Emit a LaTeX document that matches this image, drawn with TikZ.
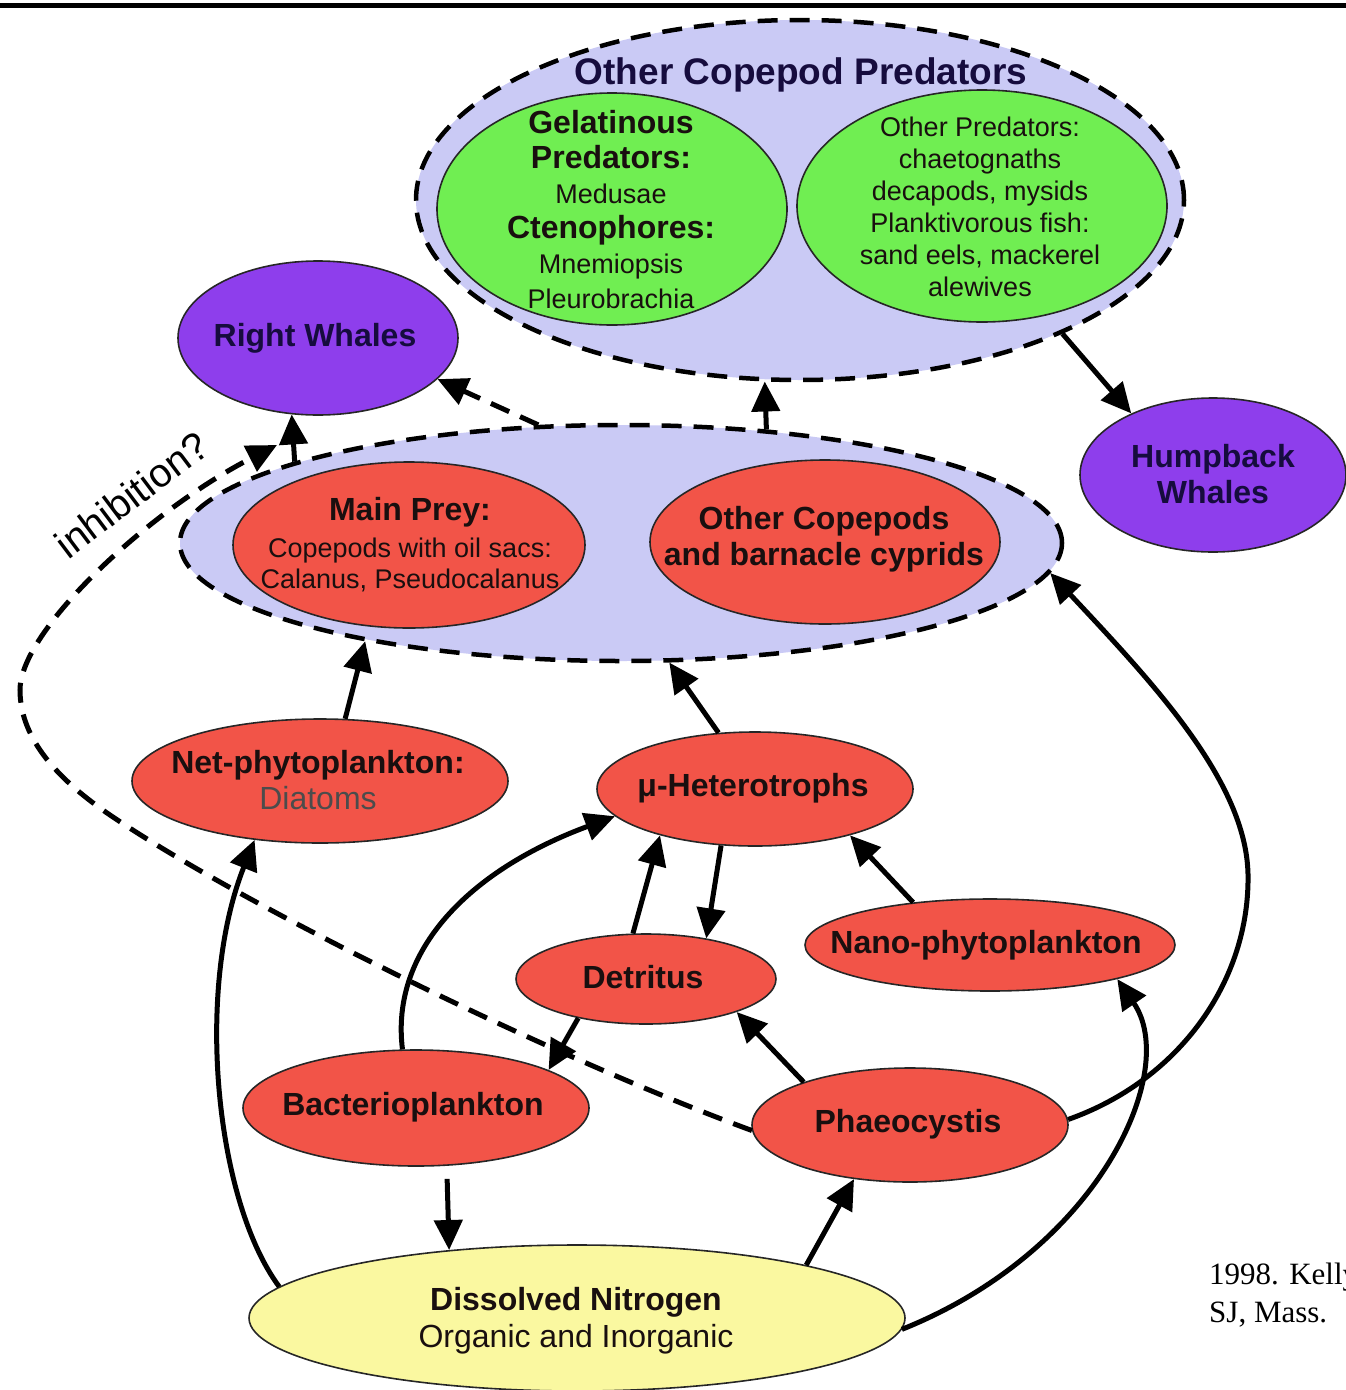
\documentclass[tikz,border=0pt]{standalone}
\usepackage{fontspec}
\setmainfont{Liberation Sans}
\newfontfamily\citefont{Liberation Serif}
\usetikzlibrary{shapes.geometric,arrows.meta}
\definecolor{lav}{RGB}{202,202,245}
\definecolor{grn}{RGB}{112,238,82}
\definecolor{redn}{RGB}{242,84,72}
\definecolor{purp}{RGB}{142,62,236}
\definecolor{yel}{RGB}{250,248,160}
\definecolor{navy}{RGB}{22,12,62}
\definecolor{txt}{RGB}{25,15,15}
\newcommand{\fsz}[2]{\fontsize{#1pt}{#2pt}\selectfont}
\begin{document}
\begin{tikzpicture}[x=1pt,y=-1pt,
  ell/.style={ellipse, draw=black!85, line width=1.6pt, inner sep=0pt},
  grpell/.style={ellipse, draw=black, fill=lav, line width=4.5pt, dash pattern=on 20pt off 12pt, inner sep=0pt},
  lbl/.style={align=center, inner sep=0pt, text=txt},
  arr/.style={line width=5pt, -{Triangle[length=30pt,width=28pt]}},
  darr/.style={arr, dash pattern=on 20pt off 12pt},
]
\path[use as bounding box] (0,0) rectangle (1346,1390);
\draw[line width=5pt] (0,5) -- (1346,5);

% Other copepod predators group
\node[grpell, minimum width=768pt, minimum height=360pt] (ocp) at (800,200) {};
\node[lbl, text=navy, font=\fsz{37}{40}\bfseries] (ocpT) at (801,75) {Other Copepod Predators};
\node[ell, fill=grn, minimum width=350pt, minimum height=232pt] (gel) at (612,209) {};
\node[lbl, font=\fsz{27}{35}] (gelT) at (611,210) {{\fsz{32}{35}\bfseries Gelatinous}\\{\fsz{32}{35}\bfseries Predators:}\\Medusae\\{\fsz{32}{35}\bfseries Ctenophores:}\\Mnemiopsis\\Pleurobrachia};
\node[ell, fill=grn, minimum width=370pt, minimum height=232pt] (oth) at (982,206) {};
\node[lbl, font=\fsz{27}{32}] (othT) at (980,207) {Other Predators:\\chaetognaths\\decapods, mysids\\Planktivorous fish:\\sand eels, mackerel\\alewives};

% Whales
\node[ell, fill=purp, minimum width=280pt, minimum height=154pt] (rw) at (318,338) {};
\node[lbl, text=navy, font=\fsz{32}{36}\bfseries] (rwT) at (315,338) {Right Whales};
\node[ell, fill=purp, minimum width=266pt, minimum height=154pt] (hw) at (1213,475) {};
\node[lbl, text=navy, font=\fsz{32}{36}\bfseries] (hwT) at (1213,474) {Humpback\\Whales};

% Copepod group
\node[grpell, minimum width=882pt, minimum height=236pt] (grp) at (621,543) {};
\node[ell, fill=redn, minimum width=352pt, minimum height=166pt] (mp) at (409,545) {};
\node[lbl, font=\fsz{27}{31}] (mpT) at (410,545) {{\fsz{32}{31}\bfseries Main Prey:}\\[6pt]Copepods with oil sacs:\\Calanus, Pseudocalanus};
\node[ell, fill=redn, minimum width=350pt, minimum height=164pt] (oc) at (825,542) {};
\node[lbl, font=\fsz{32}{36}\bfseries] (ocT) at (824,539) {Other Copepods\\and barnacle cyprids};

% Lower web
\node[ell, fill=redn, minimum width=376pt, minimum height=124pt] (np) at (320,781) {};
\node[lbl, font=\fsz{32}{36}] (npT) at (318,780) {{\bfseries Net-phytoplankton:}\\{\color{black!70}Diatoms}};
\node[ell, fill=redn, minimum width=316pt, minimum height=114pt] (mh) at (755,789) {};
\node[lbl, font=\fsz{32}{36}\bfseries] (mhT) at (753,788) {μ-Heterotrophs};
\node[ell, fill=redn, minimum width=370pt, minimum height=92pt] (nano) at (990,945) {};
\node[lbl, font=\fsz{32}{36}\bfseries] (nanoT) at (986,945) {Nano-phytoplankton};
\node[ell, fill=redn, minimum width=260pt, minimum height=90pt] (det) at (646,979) {};
\node[lbl, font=\fsz{32}{36}\bfseries] (detT) at (643,977) {Detritus};
\node[ell, fill=redn, minimum width=346pt, minimum height=116pt] (bac) at (416,1108) {};
\node[lbl, font=\fsz{32}{36}\bfseries] (bacT) at (413,1107) {Bacterioplankton};
\node[ell, fill=redn, minimum width=316pt, minimum height=114pt] (pha) at (910,1125) {};
\node[lbl, font=\fsz{32}{36}\bfseries] (phaT) at (908,1124) {Phaeocystis};
\node[ell, fill=yel, minimum width=656pt, minimum height=146pt] (dn) at (577,1318) {};
\node[lbl, font=\fsz{32}{37}] (dnT) at (576,1321) {{\bfseries Dissolved Nitrogen}\\Organic and Inorganic};

% citation
\node[anchor=base west, inner sep=0pt, font=\citefont\fsz{31}{36}] (cit1) at (1209,1284) {1998. Kelly};
\node[anchor=base west, inner sep=0pt, font=\citefont\fsz{31}{36}] (cit2) at (1209,1322) {SJ, Mass.};

% connectors
\draw[arr] (grp.166) -- (rw.251);
\draw[darr] (grp.125) -- (rw.341);
\draw[arr] (grp.38) -- (ocp.259);
\draw[arr] (ocp.333) -- (hw.143);
\draw[arr] (np.68) -- (grp.201);
\draw[arr] (mh.123) -- (grp.292);
\draw[arr] (det.106) -- (mh.206);
\draw[arr] (mh.239) -- (det.34);
\draw[arr] (nano.151) -- (mh.334);
\draw[arr] (det.210) -- (bac.16);
\draw[arr] (pha.158) -- (det.340);
\draw[arr, shorten <=13pt] (bac.298) -- (dn.152);
\draw[arr] (dn.13) -- (pha.224);
\draw[arr] (dn.174) .. controls (215,1200) and (195,990) .. (np.222);
\draw[arr] (bac.103) .. controls (390,950) and (470,870) .. (mh.191);
\coordinate (phw) at (1248,874);
\draw[arr] (pha.2) .. controls (1180,1080) and (1250,980) .. (phw) .. controls (1246,780) and (1150,680) .. (grp.356);
\draw[arr] (dn.358) .. controls (1100,1250) and (1180,1070) .. (nano.345);

% inhibition
\coordinate (inhEnd) at (277,445);
\coordinate (inhA) at (110,815);
\coordinate (inhB) at (20,690);
\draw[darr] (pha.182) .. controls (560,1060) and (250,910) .. (inhA) .. controls (60,781) and (20,740) .. (inhB) .. controls (20,630) and (150,510) .. (inhEnd);
\node[anchor=base, inner sep=0pt, rotate=37, font=\fsz{40}{44}] (inhT) at (140,506) {inhibition?};
\end{tikzpicture}
\end{document}
